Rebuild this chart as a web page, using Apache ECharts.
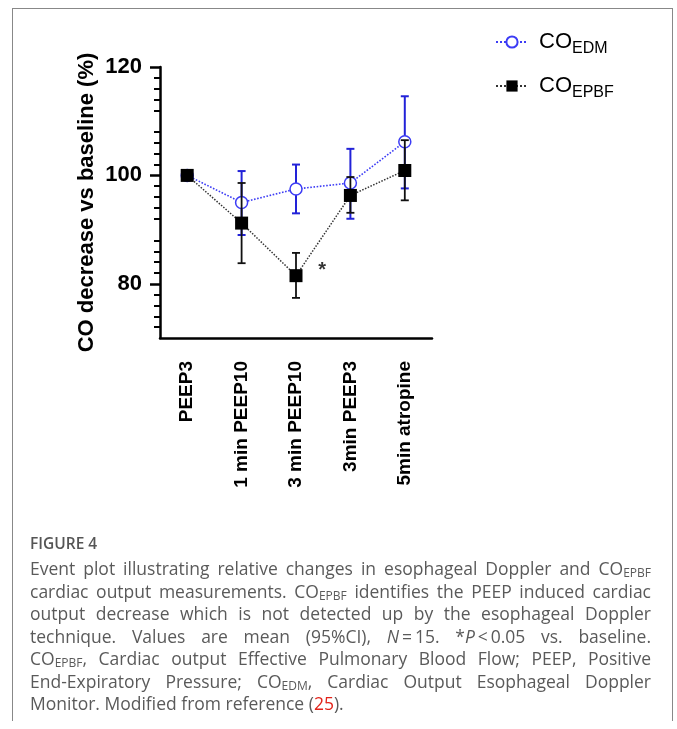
<!DOCTYPE html>
<html>
<head>
<meta charset="utf-8">
<script src="https://cdn.jsdelivr.net/npm/echarts@6/dist/echarts.min.js"></script>
<style>
  html, body { margin: 0; padding: 0; background: #fff; }
  #wrap { position: relative; width: 677px; height: 729px; overflow: hidden; }
  #chart { position: absolute; left: 0; top: 0; width: 677px; height: 729px; }
  #frame { position: absolute; left: 12px; top: 8px; width: 659px; height: 712px;
           border-left: 1px solid #888; border-top: 1px solid #888; border-right: 1px solid #888; }
  #caption { position: absolute; left: 30px; top: 531px; width: 621px;
             font-family: "Open Sans", "Noto Sans", sans-serif; font-size: 17.5px; line-height: 22.5px;
             color: #5a5a5a; font-weight: 400; }
  #caption .fig { font-weight: 600; font-size: 15.5px; color: #555; line-height: 24px; margin-bottom: 2px; }
  #caption .j { text-align: justify; text-align-last: justify; }
  #caption .s { font-size: 12px; vertical-align: -2px; line-height: 0; }
  #caption .ref { color: #e2231a; }
</style>
</head>
<body>
<div id="wrap">
  <div id="frame"></div>
  <div id="chart"></div>
  <div id="caption">
    <div class="fig">FIGURE 4</div>
    <div class="j">Event plot illustrating relative changes in esophageal Doppler and CO<span class="s">EPBF</span></div>
    <div class="j">cardiac output measurements. CO<span class="s">EPBF</span> identifies the PEEP induced cardiac</div>
    <div class="j">output decrease which is not detected up by the esophageal Doppler</div>
    <div class="j">technique. Values are mean (95%CI), <i>N</i>&#8201;=&#8201;15. *<i>P</i>&#8201;&lt;&#8201;0.05 vs. baseline.</div>
    <div class="j">CO<span class="s">EPBF</span>, Cardiac output Effective Pulmonary Blood Flow; PEEP, Positive</div>
    <div class="j">End-Expiratory Pressure; CO<span class="s">EDM</span>, Cardiac Output Esophageal Doppler</div>
    <div>Monitor. Modified from reference (<span class="ref">25</span>).</div>
  </div>
</div>
<script>
// ---- data ----
var categories = ['PEEP3', '1 min PEEP10', '3 min PEEP10', '3min PEEP3', '5min atropine'];
var edmMean = [100, 95.0, 97.5, 98.6, 106.2];
var edmLow  = [null, 89.0, 93.0, 92.0, 97.6];
var edmHigh = [null, 100.8, 102.0, 104.9, 114.6];
var epbfMean = [100, 91.2, 81.5, 96.3, 100.9];
var epbfLow  = [null, 83.8, 77.4, 93.1, 95.4];
var epbfHigh = [null, 98.6, 85.7, 99.7, 106.5];
var yTickLabels = [80, 100, 120];
var seriesNames = ['EDM', 'EPBF'];
var asteriskPoint = [[2.48, 82.4]];
var asteriskText = '*';

var FONT = '"Liberation Sans", Arial, sans-serif';
var BLUE = '#3c3cf5';
var BLUE_BAR = '#2222d8';
var BLACK = '#111';

function errData(low, high) {
  var out = [];
  for (var i = 0; i < low.length; i++) {
    if (low[i] != null) out.push([i, low[i], high[i]]);
  }
  return out;
}
function errRender(color, width, cap) {
  return function (params, api) {
    var x = api.value(0);
    var lo = api.coord([x, api.value(1)]);
    var hi = api.coord([x, api.value(2)]);
    var st = { stroke: color, lineWidth: width, fill: null };
    return {
      type: 'group',
      children: [
        { type: 'line', shape: { x1: lo[0], y1: lo[1], x2: hi[0], y2: hi[1] }, style: st },
        { type: 'line', shape: { x1: lo[0] - cap, y1: lo[1], x2: lo[0] + cap, y2: lo[1] }, style: st },
        { type: 'line', shape: { x1: hi[0] - cap, y1: hi[1], x2: hi[0] + cap, y2: hi[1] }, style: st }
      ]
    };
  };
}

var chart = echarts.init(document.getElementById('chart'), null, { renderer: 'canvas' });
var option = {
  animation: false,
  backgroundColor: 'transparent',
  grid: { left: 160, top: 67, width: 272, height: 271, containLabel: false },
  legend: {
    orient: 'vertical',
    left: 490, top: 22,
    itemWidth: 32, itemHeight: 14, itemGap: 14,
    data: seriesNames,
    formatter: function (n) { return '{a|CO}{b|' + n + '}'; },
    textStyle: {
      rich: {
        a: { fontFamily: FONT, fontSize: 22, color: '#000', lineHeight: 26, padding: [0, 0, 0, 6] },
        b: { fontFamily: FONT, fontSize: 16, color: '#000', padding: [14, 0, 0, 0], lineHeight: 26 }
      }
    }
  },
  xAxis: [{
    type: 'category',
    data: categories,
    boundaryGap: true,
    axisLine: { onZero: false, lineStyle: { color: '#000', width: 2.5 } },
    axisTick: { alignWithLabel: true, length: 10, lineStyle: { color: '#000', width: 2.5 } },
    axisLabel: { rotate: 90, margin: 23, fontFamily: FONT, fontWeight: 'bold', fontSize: 19, color: '#000', interval: 0 },
    splitLine: { show: false }
  }, {
    type: 'value', min: -0.5, max: 4.5, show: false
  }],
  yAxis: {
    type: 'value',
    min: 70, max: 120, interval: 10,
    name: 'CO decrease vs baseline (%)',
    nameLocation: 'middle',
    nameGap: 62,
    nameRotate: 90,
    nameTextStyle: { fontFamily: FONT, fontWeight: 'bold', fontSize: 22, color: '#000' },
    axisLine: { show: true, onZero: false, lineStyle: { color: '#000', width: 2.5 } },
    axisTick: { show: true, length: 10, customValues: yTickLabels, lineStyle: { color: '#000', width: 2.5 } },
    minorTick: { show: true, splitNumber: 5, length: 6, lineStyle: { color: '#000', width: 2 } },
    axisLabel: { customValues: yTickLabels, margin: 18, fontFamily: FONT, fontWeight: 'bold', fontSize: 22, color: '#000' },
    splitLine: { show: false },
    minorSplitLine: { show: false }
  },
  series: [
    {
      name: 'EDM',
      type: 'line',
      data: edmMean,
      symbol: 'circle',
      symbolSize: 12,
      z: 3,
      itemStyle: { color: '#fff', borderColor: BLUE, borderWidth: 1.5 },
      lineStyle: { color: BLUE, width: 1.6, type: 'dotted' }
    },
    {
      name: 'EDM-err',
      type: 'custom',
      renderItem: errRender(BLUE_BAR, 2, 4),
      data: errData(edmLow, edmHigh),
      z: 2,
      encode: { x: 0, y: [1, 2] }
    },
    {
      name: 'EPBF-err',
      type: 'custom',
      renderItem: errRender(BLACK, 1.8, 4),
      data: errData(epbfLow, epbfHigh),
      z: 4,
      encode: { x: 0, y: [1, 2] }
    },
    {
      name: 'EPBF',
      type: 'line',
      data: epbfMean,
      symbol: 'rect',
      symbolSize: 13,
      z: 5,
      itemStyle: { color: '#000', borderColor: '#000', borderWidth: 0 },
      lineStyle: { color: '#333', width: 1.5, type: 'dotted' }
    },
    {
      name: 'asterisk',
      type: 'scatter',
      xAxisIndex: 1,
      data: asteriskPoint,
      symbolSize: 1,
      itemStyle: { color: 'rgba(0,0,0,0)' },
      z: 6,
      label: {
        show: true, position: 'inside', formatter: function () { return asteriskText; },
        fontFamily: FONT, fontWeight: 'bold', fontSize: 20, color: '#000'
      },
      emphasis: { disabled: true }
    }
  ]
};
chart.setOption(option);
</script>
</body>
</html>
